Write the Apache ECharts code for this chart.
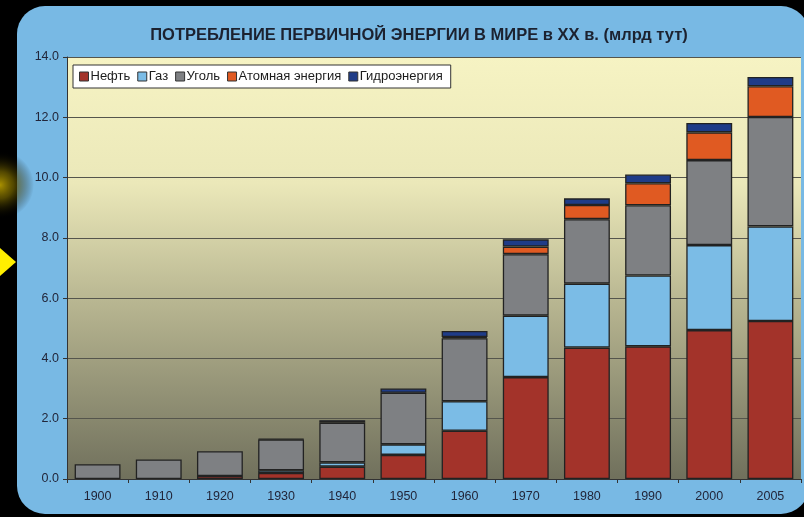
<!DOCTYPE html>
<html>
<head>
<meta charset="utf-8">
<script src="https://cdn.jsdelivr.net/npm/echarts@6/dist/echarts.min.js"></script>
<style>
  html, body { margin: 0; padding: 0; background: #000; }
  #main { width: 804px; height: 517px; }
</style>
</head>
<body>
<div id="main"></div>
<script>
  var years = ['1900', '1910', '1920', '1930', '1940', '1950', '1960', '1970', '1980', '1990', '2000', '2005'];
  // млрд тут, снизу вверх
  var oil     = [null, null, 0.10, 0.20, 0.41, 0.80, 1.60, 3.38, 4.36, 4.40, 4.94, 5.24];
  var gas     = [null, null, null, 0.09, 0.14, 0.35, 0.98, 2.04, 2.12, 2.35, 2.82, 3.14];
  var coal    = [0.49, 0.65, 0.82, 1.02, 1.32, 1.71, 2.09, 2.04, 2.14, 2.33, 2.82, 3.63];
  var nuclear = [null, null, null, null, null, null, 0.04, 0.25, 0.47, 0.73, 0.92, 1.02];
  var hydro   = [null, null, null, 0.02, 0.08, 0.14, 0.20, 0.24, 0.22, 0.29, 0.31, 0.31];
  var yTicks  = [0, 2, 4, 6, 8, 10, 12, 14];

  var names  = ['Нефть', 'Газ', 'Уголь', 'Атомная энергия', 'Гидроэнергия'];
  var colors = ['#a3332a', '#7bbce6', '#7e8083', '#e05a22', '#1f3c88'];
  var values = [oil, gas, coal, nuclear, hydro];

  var font = 'Liberation Sans, Arial';
  var myChart = echarts.init(document.getElementById('main'), null, { renderer: 'canvas' });

  var series = names.map(function (n, i) {
    return {
      name: n,
      type: 'bar',
      stack: 'total',
      barCategoryGap: '25%',
      data: values[i],
      itemStyle: { color: colors[i], borderColor: '#222', borderWidth: 1.3 }
    };
  });

  var option = {
    backgroundColor: '#000',
    animation: false,
    graphic: [
      // панель
      {
        type: 'rect', z: -10, silent: true,
        shape: { x: 17, y: 6, width: 792, height: 508, r: 28 },
        style: { fill: '#78b9e4' }
      },
      // фон области построения
      {
        type: 'rect', z: -9, silent: true,
        shape: { x: 67, y: 57, width: 734, height: 422 },
        style: {
          fill: new echarts.graphic.LinearGradient(0, 0, 0, 1, [
            { offset: 0, color: '#f6f3c3' },
            { offset: 0.3, color: '#ebe8b9' },
            { offset: 0.58, color: '#b8b691' },
            { offset: 1, color: '#70705c' }
          ])
        }
      },
      // жёлтое свечение слева
      {
        type: 'circle', z: -10, silent: true,
        shape: { cx: 0, cy: 185, r: 34 },
        style: {
          fill: new echarts.graphic.RadialGradient(0.5, 0.5, 0.5, [
            { offset: 0, color: 'rgba(170,145,0,1)' },
            { offset: 0.4, color: 'rgba(110,95,0,0.75)' },
            { offset: 1, color: 'rgba(0,0,0,0)' }
          ])
        }
      },
      {
        type: 'polygon', z: -10, silent: true,
        shape: { points: [[0, 248], [16, 262], [0, 276]] },
        style: { fill: '#ffef00' }
      }
    ],
    title: {
      text: 'ПОТРЕБЛЕНИЕ ПЕРВИЧНОЙ ЭНЕРГИИ В МИРЕ в XX в. (млрд тут)',
      left: 414, top: 22, textAlign: 'center',
      textStyle: { fontFamily: font, fontSize: 16.5, fontWeight: 'bold', color: '#1c2230' }
    },
    legend: {
      data: names,
      left: 73, top: 65,
      orient: 'horizontal',
      backgroundColor: '#fff',
      borderColor: '#333', borderWidth: 1,
      padding: [5, 8, 5, 6],
      itemWidth: 9, itemHeight: 9, itemGap: 7,
      icon: 'rect',
      itemStyle: { borderColor: '#333', borderWidth: 1 },
      textStyle: { fontFamily: font, fontSize: 13, color: '#1c1c1c', padding: [0, 0, 0, -3] }
    },
    grid: {
      left: 67, right: 3, top: 57, bottom: 38
    },
    xAxis: {
      type: 'category',
      data: years,
      axisLine: { lineStyle: { color: '#333', width: 1 } },
      axisTick: { show: true, length: 4, inside: false, lineStyle: { color: '#333' } },
      axisLabel: { margin: 11, fontFamily: font, fontSize: 12.5, color: '#22263a' }
    },
    yAxis: {
      type: 'value',
      min: yTicks[0], max: yTicks[yTicks.length - 1], interval: 2,
      axisLine: { show: true, lineStyle: { color: '#333', width: 1 } },
      axisTick: { show: true, length: 4, lineStyle: { color: '#333' } },
      axisLabel: {
        margin: 8, fontFamily: font, fontSize: 12.5, color: '#22263a',
        formatter: function (v) { return v.toFixed(1); }
      },
      splitLine: { lineStyle: { color: '#55554c', width: 1.2 } }
    },
    series: series
  };

  myChart.setOption(option);
</script>
</body>
</html>
